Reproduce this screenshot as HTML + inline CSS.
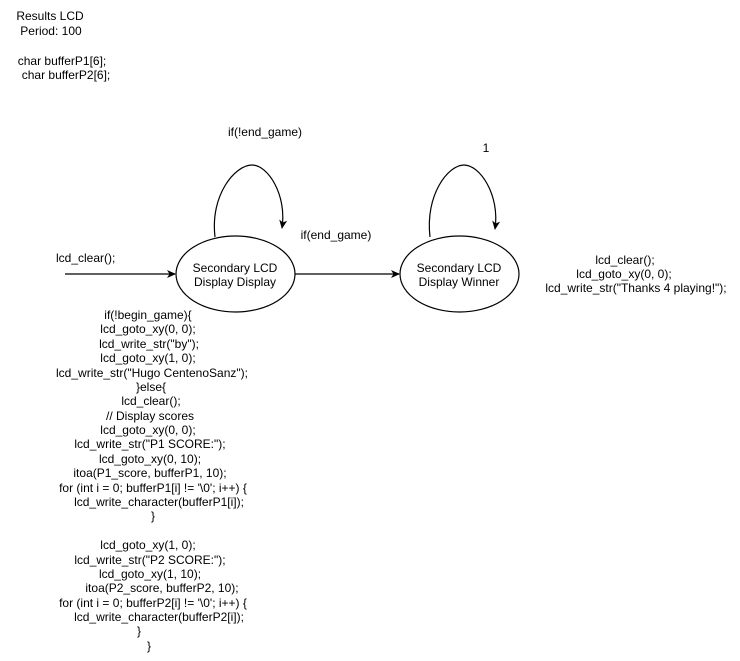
<!DOCTYPE html>
<html><head><meta charset="utf-8"><style>
html,body{margin:0;padding:0;background:#fff;}
svg{display:block;}
text{font-family:"Liberation Sans",Arial,sans-serif;font-size:12px;fill:#000;}
</style></head><body>
<svg width="740" height="661" viewBox="0 0 740 661" xmlns="http://www.w3.org/2000/svg">
<defs><marker id="a" markerWidth="10" markerHeight="10" refX="8" refY="5" orient="auto" markerUnits="userSpaceOnUse"><path d="M0,1 L9,5 L0,9 L2.5,5 Z" fill="#000"/></marker></defs>
<g text-anchor="middle">
<text x="50" y="20">Results LCD</text>
<text x="51" y="35">Period: 100</text>
<text x="62" y="65">char bufferP1[6];</text>
<text x="66" y="79">char bufferP2[6];</text>
<text x="265" y="136">if(!end_game)</text>
<text x="486" y="152">1</text>
<text x="336" y="239">if(end_game)</text>
<text x="235" y="272">Secondary LCD</text>
<text x="235" y="286">Display Display</text>
<text x="459" y="272">Secondary LCD</text>
<text x="459" y="286">Display Winner</text>
<text x="625" y="264">lcd_clear();</text>
<text x="624" y="278">lcd_goto_xy(0, 0);</text>
<text x="636" y="292">lcd_write_str("Thanks 4 playing!");</text>
<text x="148" y="319">if(!begin_game){</text>
<text x="148" y="333">lcd_goto_xy(0, 0);</text>
<text x="149" y="348">lcd_write_str("by");</text>
<text x="148" y="362">lcd_goto_xy(1, 0);</text>
<text x="152" y="377">lcd_write_str("Hugo CentenoSanz");</text>
<text x="151" y="391">}else{</text>
<text x="151" y="405">lcd_clear();</text>
<text x="150" y="420">// Display scores</text>
<text x="148" y="434">lcd_goto_xy(0, 0);</text>
<text x="150" y="448">lcd_write_str("P1 SCORE:");</text>
<text x="150" y="463">lcd_goto_xy(0, 10);</text>
<text x="150" y="477">itoa(P1_score, bufferP1, 10);</text>
<text x="153" y="492">for (int i = 0; bufferP1[i] != '\0'; i++) {</text>
<text x="159" y="506">lcd_write_character(bufferP1[i]);</text>
<text x="153" y="520">}</text>
<text x="148" y="549">lcd_goto_xy(1, 0);</text>
<text x="150" y="564">lcd_write_str("P2 SCORE:");</text>
<text x="150" y="578">lcd_goto_xy(1, 10);</text>
<text x="162" y="592">itoa(P2_score, bufferP2, 10);</text>
<text x="153" y="607">for (int i = 0; bufferP2[i] != '\0'; i++) {</text>
<text x="159" y="621">lcd_write_character(bufferP2[i]);</text>
<text x="139" y="635">}</text>
<text x="149" y="650">}</text>
</g>
<text x="56" y="262">lcd_clear();</text>
<g fill="none" stroke="#000" stroke-width="1.2">
<ellipse cx="235.5" cy="274" rx="59.5" ry="38"/>
<ellipse cx="459.5" cy="274" rx="59.5" ry="38"/>
<line x1="65" y1="274" x2="175" y2="274" marker-end="url(#a)"/>
<line x1="295" y1="274" x2="399" y2="274" marker-end="url(#a)"/>
<path d="M215,237 C210,195 235,165 252,165 C268,165 287,195 282,228" marker-end="url(#a)"/>
<path d="M430,237 C425,195 448,165 464,165 C480,165 500,195 495,229" marker-end="url(#a)"/>
</g>
</svg>
</body></html>
